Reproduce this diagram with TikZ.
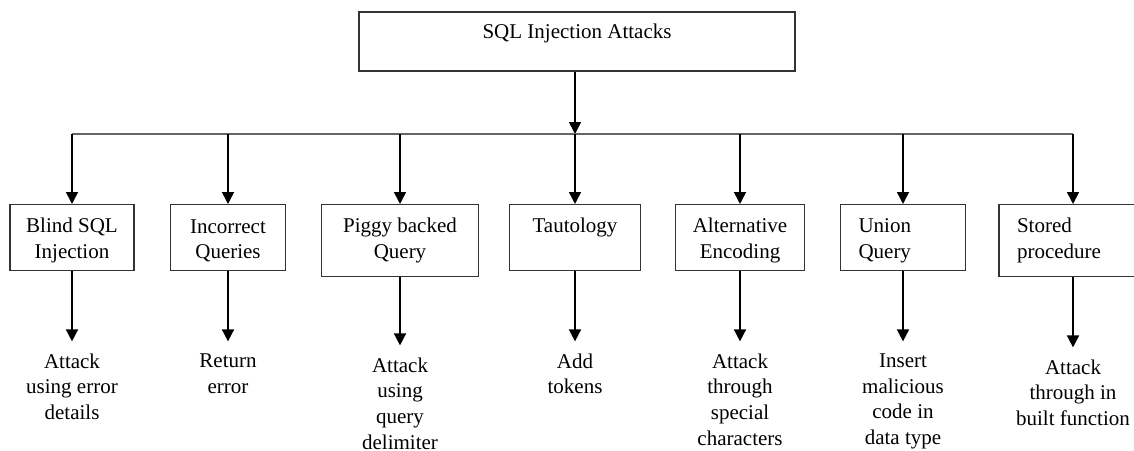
\documentclass[tikz,border=0pt]{standalone}
\usepackage{fontspec}
\setmainfont{Liberation Serif}
\usetikzlibrary{arrows.meta,positioning}
\newcommand{\boxstrut}{\rule{0pt}{10pt}}

\begin{document}
\begin{tikzpicture}[x=0.5pt,y=-0.5pt,
  font=\fontsize{10.5}{12.8}\selectfont,
  box/.style={draw=black!80,line width=0.7pt,align=center,minimum height=33pt,anchor=north,inner xsep=4pt},
  leftbox/.style={box,align=left,inner xsep=9pt},
  leaf/.style={align=center,inner sep=6pt,anchor=north},
  arr/.style={-{Triangle[width=6pt,length=6pt]},line width=0.8pt},
  busline/.style={draw=black!60,line width=0.8pt}]
\useasboundingbox (0,0) rectangle (1134,450);

% root and bus
\node[box,anchor=center,minimum width=218pt,minimum height=29.5pt] (root) at (577,41.5) {\boxstrut SQL Injection Attacks\\~};
\coordinate (bus) at (0,134);

% attack types
\node[box,minimum width=62pt] (blind) at (72,204) {\boxstrut Blind SQL\\Injection};
\node[box,minimum width=57.5pt] (incorrect) at (228,204) {\boxstrut Incorrect\\Queries};
\node[box,minimum width=78.5pt,minimum height=36pt] (piggy) at (400,204) {Piggy backed\\Query};
\node[box,minimum width=65.5pt] (taut) at (575,204) {Tautology\\~};
\node[box,minimum width=64.5pt] (altenc) at (740,204) {\boxstrut Alternative\\Encoding};
\node[leftbox,text width=44.5pt] (union) at (903,204) {\boxstrut Union\\Query};
\node[leftbox,text width=56pt,minimum height=36pt] (stored) at (1073,204) {Stored\\procedure};

% what each one does
\node[leaf,below=35pt of blind] (blindx) {Attack\\using error\\details};
\node[leaf,below=35pt of incorrect] (incorrectx) {Return\\error};
\node[leaf,below=34pt of piggy] (piggyx) {Attack\\using\\query\\delimiter};
\node[leaf,below=35pt of taut] (tautx) {Add\\tokens};
\node[leaf,below=35pt of altenc] (altencx) {Attack\\through\\special\\characters};
\node[leaf,below=35pt of union] (unionx) {Insert\\malicious\\code in\\data type};
\node[leaf,below=35pt of stored] (storedx) {Attack\\through in\\built function};

\draw[arr] (root.south -| taut) -- (taut |- bus);
\draw[busline] (blind |- bus) -- (stored |- bus);
\foreach \n in {blind,incorrect,piggy,taut,altenc,union,stored}{
  \draw[arr] (\n |- bus) -- (\n);
  \draw[arr] (\n) -- (\n x);
}
\end{tikzpicture}
\end{document}
